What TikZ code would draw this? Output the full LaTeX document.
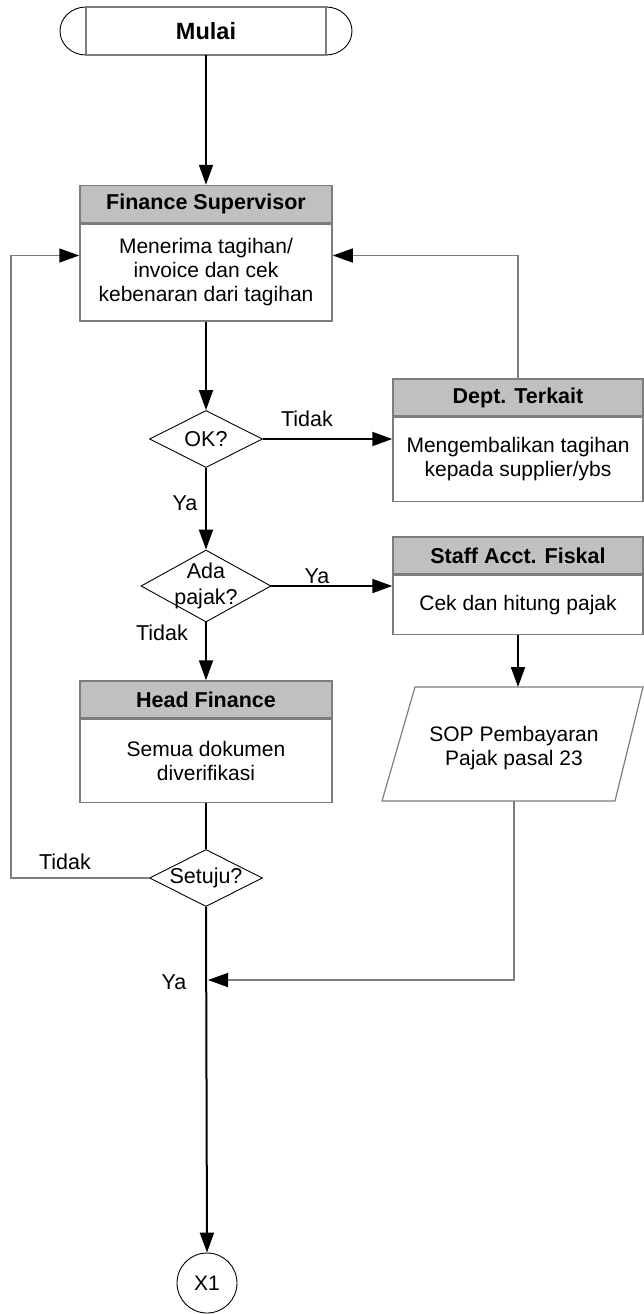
\documentclass[tikz,border=0pt]{standalone}
\usepackage{fontspec}
\setmainfont{Liberation Sans}
\usetikzlibrary{arrows.meta,shapes.geometric}
\definecolor{hdrgray}{RGB}{192,192,192}
\definecolor{linegray}{RGB}{125,125,125}
\tikzset{
  txt/.style={font=\fontsize{21}{24}\selectfont},
  hdr/.style={txt, draw=linegray, line width=1.5pt, fill=hdrgray,
    font=\fontsize{21.5}{24}\selectfont\bfseries, minimum height=37, inner sep=0pt},
  bodybox/.style={txt, draw=linegray, line width=1.5pt, fill=white, align=center, inner sep=0pt},
  dec/.style={diamond, draw=black, line width=0.9pt, inner sep=0pt},
  lbl/.style={font=\fontsize{21.5}{24}\selectfont, inner sep=0pt},
  flow/.style={draw=black, line width=2pt, -{Triangle[length=20pt,width=14pt]}},
  flowplain/.style={draw=black, line width=2pt},
  loopline/.style={draw=linegray, line width=1.5pt, -{Triangle[length=20pt,width=14pt,color=black,fill=black]}},
}
\begin{document}
\begin{tikzpicture}[x=1pt,y=-1pt]
\useasboundingbox (0,0) rectangle (644,1314);

% Mulai terminator
\draw[black, line width=0.9pt] (326,7) arc[start angle=-90,end angle=90,x radius=26,y radius=24];
\draw[black, line width=0.9pt] (86,55) arc[start angle=90,end angle=270,x radius=26,y radius=24];
\draw[linegray, line width=1.5pt] (86,7) rectangle (326,55);
\node[lbl, font=\fontsize{23.5}{26}\selectfont\bfseries, minimum width=290, minimum height=48] (mulai) at (206,31) {Mulai};

% Finance Supervisor
\node[hdr, minimum width=252] (fsh) at (206,204) {Finance Supervisor};
\node[bodybox, minimum width=252, minimum height=97, anchor=north] (fs) at (fsh.south) {Menerima tagihan/\\invoice dan cek\\kebenaran dari tagihan};

% Decisions
\node[dec, minimum width=113, minimum height=57, label={[lbl]center:OK?}] (ok) at (206,439) {};
\node[dec, minimum width=130, minimum height=72, label={[lbl,align=center]center:{Ada\\[2pt]pajak?}}] (ada) at (206,586) {};

% Dept. Terkait
\node[hdr, minimum width=250] (dh) at (518,397.5) {Dept. Terkait};
\node[bodybox, minimum width=250, minimum height=84, anchor=north] (db) at (dh.south) {Mengembalikan tagihan\\kepada supplier/ybs};

% Staff Acct. Fiskal
\node[hdr, minimum width=250] (sh) at (518,555.5) {Staff Acct. Fiskal};
\node[bodybox, minimum width=250, minimum height=59, anchor=north] (sb) at (sh.south) {Cek dan hitung pajak};

% SOP document (parallelogram)
\draw[linegray, line width=1.2pt] (415,687) -- (643,687) -- (615,801) -- (382,801) -- cycle;
\node[txt, inner sep=0pt, align=center] (sop) at (514,748) {SOP Pembayaran\\Pajak pasal 23};
\coordinate (soptop) at (518,687);
\coordinate (sopbot) at (514,801);

% Head Finance
\node[hdr, minimum width=252] (hh) at (206,699.5) {Head Finance};
\node[bodybox, minimum width=252, minimum height=83, anchor=north] (hb) at (hh.south) {Semua dokumen\\diverifikasi};

% Setuju
\node[dec, minimum width=113, minimum height=57, label={[lbl]center:Setuju?}] (st) at (206,878) {};

% End connector
\node[circle, draw=black, line width=0.9pt, minimum size=60, inner sep=0pt, font=\fontsize{21}{23}\selectfont] (x1) at (207,1283) {X1};

% helper coordinates
\coordinate (lcorner) at (11,878);
\coordinate (mainjoin) at (208,980);

% Connectors
\draw[flow] (mulai.south) -- (fsh.north);
\draw[flow] (fs.south) -- (ok.north);
\draw[flow] (ok.east) -- (ok.east -| db.west);
\draw[flow] (ok.south) -- (ada.north);
\draw[flow] (ada.east) -- (ada.east -| sb.west);
\draw[flow] (ada.south) -- (hh.north);
\draw[flow] (sb.south) -- (soptop);
\draw[flowplain] (hb.south) -- (st.north);
\draw[flow] (st.south) -- (x1.north);
\draw[loopline] (dh.north) |- ([yshift=17pt]fs.east);
\draw[loopline] (st.west) -- (lcorner) |- ([yshift=17pt]fs.west);
\draw[loopline] (sopbot) |- (mainjoin);

% Labels
\node[lbl] (l1) at (307,419) {Tidak};
\node[lbl] (l2) at (185,503) {Ya};
\node[lbl] (l3) at (317,576) {Ya};
\node[lbl] (l4) at (162,633) {Tidak};
\node[lbl] (l5) at (65,862) {Tidak};
\node[lbl] (l6) at (174,982) {Ya};
\end{tikzpicture}
\end{document}
